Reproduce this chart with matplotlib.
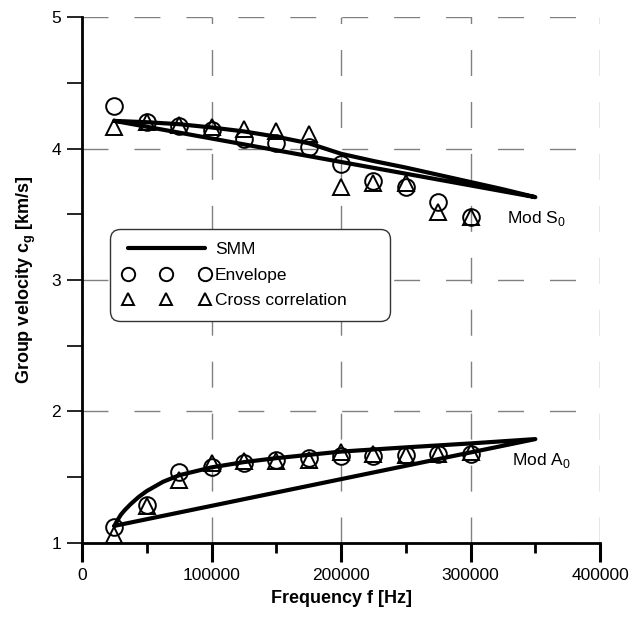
import matplotlib
matplotlib.use("Agg")
import matplotlib.pyplot as plt
from matplotlib.ticker import MultipleLocator, FixedLocator

plt.rcParams['font.family'] = ['Liberation Sans', 'DejaVu Sans']

# ---- data ----
f_meas = [25000, 50000, 75000, 100000, 125000, 150000, 175000, 200000,
          225000, 250000, 275000, 300000]
s0_envelope = [4.32, 4.20, 4.17, 4.14, 4.07, 4.04, 4.01, 3.88, 3.75, 3.71, 3.59, 3.48]
s0_crosscorr = [4.16, 4.20, 4.18, 4.16, 4.15, 4.13, 4.11, 3.71, 3.74, 3.74, 3.52, 3.48]
a0_envelope = [1.12, 1.29, 1.54, 1.58, 1.61, 1.63, 1.645, 1.66, 1.66, 1.67, 1.68, 1.68]
a0_crosscorr = [1.06, 1.28, 1.48, 1.61, 1.62, 1.62, 1.63, 1.69, 1.68, 1.67, 1.68, 1.69]

f_s0_smm = [25000, 50000, 75000, 100000, 125000, 150000, 175000, 200000,
            225000, 250000, 275000, 300000, 325000, 350000, 25000]
cg_s0_smm = [4.21, 4.20, 4.185, 4.16, 4.13, 4.09, 4.04, 3.96,
             3.905, 3.855, 3.80, 3.745, 3.69, 3.63, 4.21]

f_a0_smm = [25000, 27500, 30000, 33000, 37500, 43750, 50000, 62500, 75000,
            100000, 125000, 150000, 175000, 200000, 250000, 300000, 350000, 25000]
cg_a0_smm = [1.13, 1.175, 1.215, 1.25, 1.295, 1.35, 1.395, 1.465, 1.515,
             1.575, 1.615, 1.645, 1.67, 1.695, 1.727, 1.757, 1.79, 1.13]

x_ticks = [0, 100000, 200000, 300000, 400000]
y_ticks = [1, 2, 3, 4, 5]

# ---- figure ----
fig = plt.figure(figsize=(6.31, 6.17), dpi=100)
ax = fig.add_axes([0.130, 0.120, 0.821, 0.8524])

fs = 12.5
ax.set_xlim(0, 400000)
ax.set_ylim(1, 5)

ax.xaxis.set_major_locator(FixedLocator(x_ticks))
ax.xaxis.set_minor_locator(MultipleLocator(50000))
ax.yaxis.set_major_locator(FixedLocator(y_ticks))
ax.yaxis.set_minor_locator(MultipleLocator(0.5))
ax.set_xticklabels([str(v) for v in x_ticks])
ax.set_yticklabels([str(v) for v in y_ticks])

ax.tick_params(axis='x', which='major', direction='out', length=14, width=2.2,
               labelsize=fs, pad=4)
ax.tick_params(axis='x', which='minor', direction='out', length=7, width=2.0)
ax.tick_params(axis='y', which='major', direction='out', length=11, width=1.2,
               labelsize=fs, pad=4)
ax.tick_params(axis='y', which='minor', direction='out', length=11, width=1.2)

for side in ['top', 'right']:
    ax.spines[side].set_visible(False)
for side in ['left', 'bottom']:
    ax.spines[side].set_linewidth(2.0)

ax.grid(True, which='major', color='#808080', linewidth=1.0,
        linestyle=(0, (18.7, 18.7)))
ax.set_axisbelow(True)

lw = 3.0
ax.plot(f_s0_smm, cg_s0_smm, color='black', linewidth=lw, label='SMM',
        solid_capstyle='round', solid_joinstyle='round', zorder=3)
ax.plot(f_a0_smm, cg_a0_smm, color='black', linewidth=lw,
        solid_capstyle='round', solid_joinstyle='round', zorder=3)

ax.plot(f_meas, s0_envelope, linestyle='none', marker='o', markersize=12,
        markerfacecolor='none', markeredgecolor='black', markeredgewidth=1.4,
        label='Envelope', zorder=4)
ax.plot(f_meas, a0_envelope, linestyle='none', marker='o', markersize=12,
        markerfacecolor='none', markeredgecolor='black', markeredgewidth=1.4,
        zorder=4)
ax.plot(f_meas, s0_crosscorr, linestyle='none', marker='^', markersize=11,
        markerfacecolor='none', markeredgecolor='black', markeredgewidth=1.4,
        label='Cross correlation', zorder=4)
ax.plot(f_meas, a0_crosscorr, linestyle='none', marker='^', markersize=11,
        markerfacecolor='none', markeredgecolor='black', markeredgewidth=1.4,
        zorder=4)

ax.text(328000, 3.47, 'Mod S$_\\mathregular{0}$', fontsize=fs, va='center', ha='left')
ax.text(332000, 1.63, 'Mod A$_\\mathregular{0}$', fontsize=fs, va='center', ha='left')

leg = ax.legend(loc='upper left', bbox_to_anchor=(0.054, 0.418, 0.541, 0.179),
                mode='expand', numpoints=3,
                fontsize=fs, handlelength=5.0, handletextpad=0.3,
                labelspacing=0.6, borderpad=0.75, borderaxespad=0,
                fancybox=True, framealpha=1, edgecolor='#333333',
                markerscale=0.8)
leg.get_frame().set_linewidth(1.0)
leg.get_frame().set_boxstyle('round', pad=0, rounding_size=0.6)
leg.set_zorder(5)

ax.set_xlabel('Frequency f [Hz]', fontsize=13, fontweight='bold', labelpad=5)
ax.set_ylabel('Group velocity c$_\\mathregular{g}$ [km/s]', fontsize=13,
              fontweight='bold', labelpad=10)

fig.savefig('out.png', dpi=100)
